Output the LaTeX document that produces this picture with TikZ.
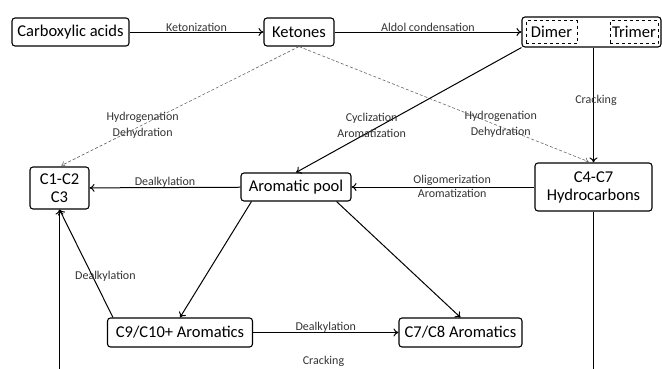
\documentclass[tikz,border=0pt]{standalone}
\usepackage{fontspec}
\setmainfont{Carlito}
\usepackage{tikz}
\usetikzlibrary{positioning}
\usetikzlibrary{arrows.meta}

\tikzset{
    stage/.style={draw, line width=1.1pt, rounded corners=3pt, align=center, inner sep=2pt,
        font=\fontsize{16.5}{18}\selectfont},
    part/.style={draw, dashed, line width=0.9pt, inner sep=0pt, minimum height=23pt,
        font=\fontsize{16.5}{18}\selectfont},
    route/.style={line width=1pt, -{To[length=5pt,width=8pt]}},
    side/.style={densely dashed, black!60, line width=0.6pt, shorten >=2pt, -{To[length=4pt,width=6pt]}},
    rxnlabel/.style={font=\fontsize{12}{16}\selectfont, text=black!80, inner sep=0pt, align=center},
}

\begin{document}
\begin{tikzpicture}[x=1pt, y=-1pt]
    \clip (0,0) rectangle (662,368);

    \node [stage, minimum width=117pt, minimum height=28pt] (acids) at (70.5,32) {Carboxylic acids};
    \node [stage, minimum width=70pt, minimum height=28pt] (ketones) at (299,32) {Ketones};
    \node [stage, minimum width=139pt, minimum height=30pt] (oligo) at (591.5,32) {};
    \node [part, minimum width=51pt] (dimer) at (551.5,32) {Dimer};
    \node [part, minimum width=48pt] (trimer) at (634,32) {Trimer};

    \node [stage, minimum width=59pt, minimum height=42pt] (gases) at (59.5,188) {C1-C2\\C3};
    \node [stage, minimum width=110pt, minimum height=28pt] (pool) at (296,187) {Aromatic pool};
    \node [stage, minimum width=117pt, minimum height=48pt] (light) at (593.5,187) {C4-C7\\Hydrocarbons};
    \node [stage, minimum width=145pt, minimum height=29pt] (heavy) at (180,332.5) {C9/C10+ Aromatics};
    \node [stage, minimum width=123pt, minimum height=29pt] (btx) at (460.5,332.5) {C7/C8 Aromatics};

    \draw [route] (acids) -- node [rxnlabel, above] {Ketonization} (ketones);
    \draw [route] (ketones) -- node [rxnlabel, above] {Aldol condensation} (oligo);

    \draw [side] (ketones.south) -- node [rxnlabel, pos=0.653] {Hydrogenation\\Dehydration} (gases.north);
    \draw [side] (ketones.south) -- node [rxnlabel, pos=0.675, xshift=5pt] {Hydrogenation\\Dehydration} ([xshift=-3pt]light.north);

    \draw [route] (oligo.south west) -- node [rxnlabel, pos=0.62, xshift=-10pt] {Cyclization\\Aromatization} (pool.north);
    \draw [route] (oligo.south -| light.north) -- node [rxnlabel, pos=0.457, xshift=2.5pt] {Cracking} (light.north);

    \draw [route] (light) -- node [rxnlabel, pos=0.45, above=1pt] {Oligomerization}
        node [rxnlabel, pos=0.45, below=2pt] {Aromatization} (pool);
    \draw [route] (pool) -- node [rxnlabel, above] {Dealkylation} (gases);

    \draw [route] ([xshift=11pt]pool.south west) -- (heavy.north);
    \draw [route] ([xshift=-15pt]pool.south east) -- (btx.north);
    \draw [route] ([xshift=6pt]heavy.north west) -- node [rxnlabel, pos=0.385, xshift=13pt] {Dealkylation} (gases.south);
    \draw [route] (heavy) -- node [rxnlabel, above] {Dealkylation} (btx);

    \draw [route] (light.south) -- ++(0,167) -| (gases.south);
    \node [rxnlabel, anchor=base] (crack) at (323.5,364.5) {Cracking};
\end{tikzpicture}
\end{document}
